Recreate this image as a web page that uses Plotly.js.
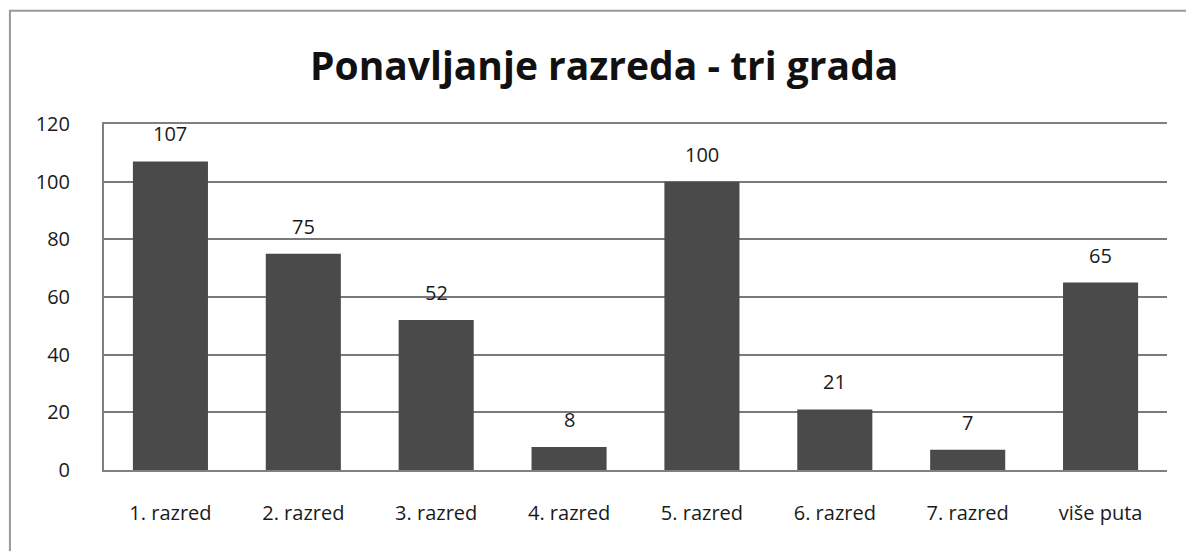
<!DOCTYPE html>
<html><head><meta charset="utf-8">
<script src="https://cdn.plot.ly/plotly-3.0.1.min.js"></script>
<style>html,body{margin:0;padding:0;background:#fff;}#chart{width:1186px;height:551px;}</style>
</head><body><div id="chart"></div>
<script>
const categories = ["1. razred","2. razred","3. razred","4. razred","5. razred","6. razred","7. razred","više puta"];
const values = [107, 75, 52, 8, 100, 21, 7, 65];
const yTicks = [0, 20, 40, 60, 80, 100, 120];

const font = "Open Sans, Noto Sans, sans-serif";
const trace = {
  type: "bar", x: categories, y: values,
  marker: {color: "#4a4a4a", line: {width: 0}},
  hoverinfo: "skip"
};
const annotations = categories.map((c, i) => ({
  x: c, y: values[i], text: String(values[i]), showarrow: false,
  xref: "x", yref: "y", yanchor: "bottom", yshift: 12,
  font: {family: font, size: 20, color: "#1a1a1a"}
}));
annotations.push({
  text: "Ponavljanje razreda - tri grada", xref: "paper", yref: "paper",
  x: 0.47, y: 1, yshift: 60, yanchor: "middle", showarrow: false,
  font: {family: font, size: 39, color: "#111", weight: "bold"}
});
const layout = {
  width: 1186, height: 551,
  margin: {l: 104, r: 19, t: 124, b: 81},
  paper_bgcolor: "#fff", plot_bgcolor: "#fff",
  showlegend: false,
  bargap: 0.435,
  xaxis: {
    type: "category", showgrid: false, showline: true, linecolor: "#808080", linewidth: 2,
    mirror: true,
    ticks: "", tickfont: {family: font, size: 20, color: "#1a1a1a"}, ticklabelstandoff: 24,
    fixedrange: true
  },
  yaxis: {
    range: [0, 120], tickvals: yTicks, showgrid: true, gridcolor: "#7a7a7a", gridwidth: 1.8,
    showline: true, linecolor: "#808080", linewidth: 2, zeroline: false,
    ticks: "", tickfont: {family: font, size: 20, color: "#1a1a1a"}, ticklabelstandoff: 28,
    fixedrange: true
  },
  annotations: annotations,
  shapes: [{
    type: "rect", xref: "paper", yref: "paper", x0: -0.0885, x1: 1.05, y0: -0.3, y1: 1.327,
    line: {color: "#999", width: 2}, fillcolor: "rgba(0,0,0,0)", layer: "below"
  }]
};
Plotly.newPlot("chart", [trace], layout, {displayModeBar: false, staticPlot: true});
</script></body></html>
